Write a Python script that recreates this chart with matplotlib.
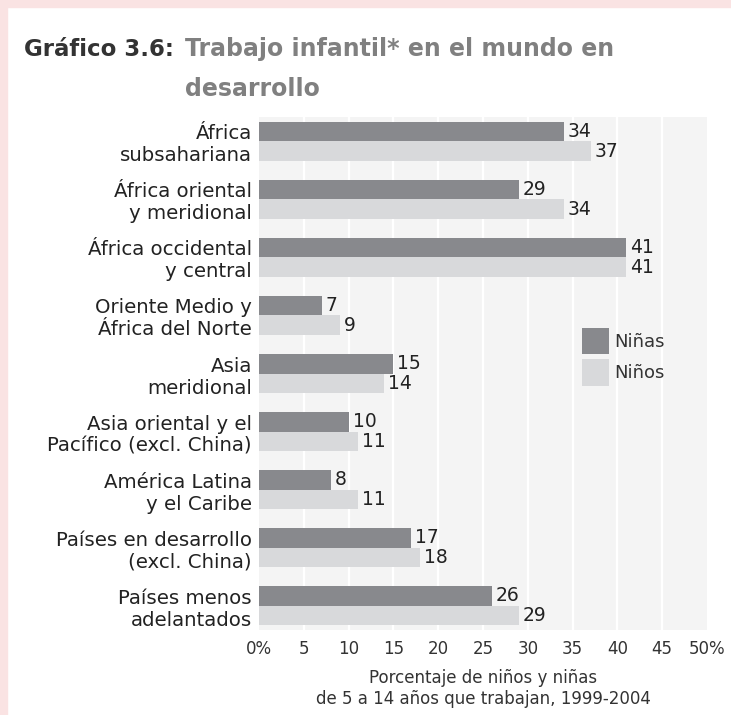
import matplotlib
matplotlib.use("Agg")
import matplotlib.pyplot as plt
from matplotlib.patches import Patch, Rectangle
import numpy as np

plt.rcParams['font.family'] = ['DejaVu Sans']

categories = ["África\nsubsahariana", "África oriental\ny meridional", "África occidental\ny central",
              "Oriente Medio y\nÁfrica del Norte", "Asia\nmeridional", "Asia oriental y el\nPacífico (excl. China)",
              "América Latina\ny el Caribe", "Países en desarrollo\n(excl. China)", "Países menos\nadelantados"]
ninas = [34, 29, 41, 7, 15, 10, 8, 17, 26]
ninos = [37, 34, 41, 9, 14, 11, 11, 18, 29]
xticks = [0, 5, 10, 15, 20, 25, 30, 35, 40, 45, 50]
xticklabels = ["0%", "5", "10", "15", "20", "25", "30", "35", "40", "45", "50%"]
series_names = ["Niñas", "Niños"]

W, H = 731, 715
fig = plt.figure(figsize=(W/100, H/100), dpi=100)
fig.patch.set_facecolor("white")

# pink border (top and left)
pink = "#fae3e3"
fig.add_artist(Rectangle((0, 1 - 7/H), 1, 7/H, transform=fig.transFigure, color=pink, zorder=0))
fig.add_artist(Rectangle((0, 0), 7/W, 1, transform=fig.transFigure, color=pink, zorder=0))

left, right, top, bottom = 259, 707, 117, 630
ax = fig.add_axes([left/W, 1 - bottom/H, (right-left)/W, (bottom-top)/H])
ax.set_facecolor("#f4f4f4")

dark = "#88898d"
light = "#d8d9db"
bh = 0.336
y = np.arange(len(categories))
ax.barh(y - bh/2, ninas, height=bh, color=dark, zorder=3)
ax.barh(y + bh/2, ninos, height=bh, color=light, zorder=3)

for yi, v in zip(y, ninas):
    ax.text(v + 0.45, yi - bh/2, str(v), va="center", ha="left", fontsize=13.5, color="#222222", zorder=4)
for yi, v in zip(y, ninos):
    ax.text(v + 0.45, yi + bh/2, str(v), va="center", ha="left", fontsize=13.5, color="#222222", zorder=4)

ax.set_xlim(0, 50)
ax.set_ylim(8.422, -0.422)
for gx in xticks[1:-1]:
    ax.axvline(gx, color="white", lw=1.6, zorder=1)

ax.set_yticks(y)
ax.set_yticklabels(categories, fontsize=14.2, color="#222222", linespacing=1.2)
ax.set_xticks(xticks)
ax.set_xticklabels(xticklabels, fontsize=12, color="#333333")
ax.tick_params(axis="both", length=0)
ax.tick_params(axis="y", pad=5)
ax.tick_params(axis="x", pad=7)
for s in ax.spines.values():
    s.set_visible(False)

ax.set_xlabel("Porcentaje de niños y niñas\nde 5 a 14 años que trabajan, 1999-2004",
              fontsize=12, color="#333333", linespacing=1.25, labelpad=8)

handles = [Patch(facecolor=dark, edgecolor="none"), Patch(facecolor=light, edgecolor="none")]
leg = ax.legend(handles, series_names, loc="upper left", bbox_to_anchor=((582-left)/(right-left), 1-(327.7-top)/(bottom-top)),
                frameon=False, fontsize=13, handlelength=1.5, handleheight=1.9, handletextpad=0.3,
                labelspacing=0.25, borderpad=0, borderaxespad=0)
for t in leg.get_texts():
    t.set_color("#333333")

fig.text(24/W, 1 - 49/H, "Gráfico 3.6:", fontsize=16.5, fontweight="bold", color="#333333", va="center", ha="left")
fig.text(185/W, 1 - 49/H, "Trabajo infantil* en el mundo en", fontsize=17, fontweight="bold", color="#808080", va="center", ha="left")
fig.text(185/W, 1 - 89/H, "desarrollo", fontsize=17, fontweight="bold", color="#808080", va="center", ha="left")

fig.savefig("out.png", dpi=100)
